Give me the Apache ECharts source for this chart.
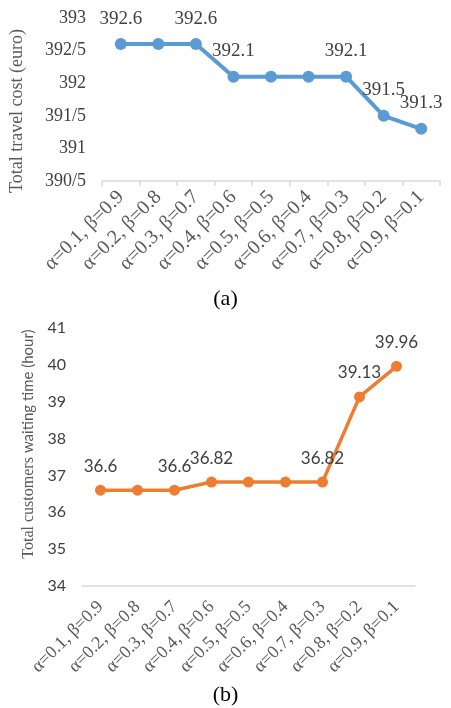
<!DOCTYPE html>
<html>
<head>
<meta charset="utf-8">
<script src="https://cdn.jsdelivr.net/npm/echarts@6/dist/echarts.min.js"></script>
<style>
  html, body { margin: 0; padding: 0; background: #fff; }
  #chart { width: 451px; height: 708px; }
</style>
</head>
<body>
<div id="chart"></div>
<script>
// Weight combinations (alpha, beta)
const categories = [
  'α=0.1, β=0.9', 'α=0.2, β=0.8', 'α=0.3, β=0.7',
  'α=0.4, β=0.6', 'α=0.5, β=0.5', 'α=0.6, β=0.4',
  'α=0.7, β=0.3', 'α=0.8, β=0.2', 'α=0.9, β=0.1'
];
// (a) total travel cost in euro
const travelCost = [392.6, 392.6, 392.6, 392.1, 392.1, 392.1, 392.1, 391.5, 391.3];
// (b) total customers waiting time in hours
const waitingTime = [36.6, 36.6, 36.6, 36.82, 36.82, 36.82, 36.82, 39.13, 39.96];
// points that carry a value label
const labelledPoints = [0, 2, 3, 6, 7, 8];

const serif = 'Liberation Serif';
const sans = 'Lato';

function withLabels(values, fontFamily, fontSize) {
  return values.map((v, i) => ({
    value: v,
    label: {
      show: labelledPoints.includes(i),
      position: 'top',
      distance: 10,
      color: '#404040',
      fontFamily: fontFamily,
      fontSize: fontSize
    }
  }));
}

const chart = echarts.init(document.getElementById('chart'), null, { renderer: 'canvas' });

chart.setOption({
  animation: false,
  backgroundColor: '#ffffff',
  textStyle: { fontFamily: serif },
  title: [
    { text: '(a)', left: 'center', top: 283,
      textStyle: { fontFamily: serif, fontSize: 22, fontWeight: 'normal', color: '#000' } },
    { text: '(b)', left: 'center', top: 679,
      textStyle: { fontFamily: serif, fontSize: 22, fontWeight: 'normal', color: '#000' } }
  ],
  grid: [
    { left: 96, right: 11, top: 18, height: 163 },
    { left: 82, right: 36, top: 328, height: 258 }
  ],
  xAxis: [
    {
      gridIndex: 0, type: 'category', data: categories, boundaryGap: true,
      axisLine: { lineStyle: { color: '#d9d9d9', width: 1.5 } },
      axisTick: { show: true, length: 5, lineStyle: { color: '#d9d9d9', width: 1.5 } },
      axisLabel: { rotate: 45, interval: 0, margin: 13, color: '#595959',
                   fontFamily: serif, fontSize: 20 }
    },
    {
      gridIndex: 1, type: 'category', data: categories, boundaryGap: true,
      axisLine: { lineStyle: { color: '#d9d9d9', width: 1.5 } },
      axisTick: { show: false },
      axisLabel: { rotate: 45, interval: 0, margin: 18, color: '#595959',
                   fontFamily: serif, fontSize: 18 }
    }
  ],
  yAxis: [
    {
      gridIndex: 0, type: 'value', min: 390.5, max: 393, interval: 0.5,
      name: 'Total travel cost (euro)', nameLocation: 'middle', nameGap: 76,
      nameTextStyle: { fontFamily: serif, fontSize: 18, color: '#595959', padding: [0, 23, 0, 0] },
      axisLine: { show: false }, axisTick: { show: false }, splitLine: { show: false },
      axisLabel: { margin: 16, color: '#404040', fontFamily: serif, fontSize: 18,
                   formatter: v => String(v).replace('.', '/') }
    },
    {
      gridIndex: 1, type: 'value', min: 34, max: 41, interval: 1,
      name: '{s|Total customers }{t|waiting time (hour)}',
      nameLocation: 'middle', nameGap: 44,
      nameTextStyle: {
        color: '#595959', padding: [0, 0, 0, 26],
        rich: {
          s: { fontFamily: serif, fontSize: 16, color: '#595959' },
          t: { fontFamily: sans, fontSize: 15, color: '#595959' }
        }
      },
      axisLine: { show: false }, axisTick: { show: false }, splitLine: { show: false },
      axisLabel: { margin: 16, color: '#404040', fontFamily: sans, fontSize: 16 }
    }
  ],
  series: [
    {
      type: 'line', xAxisIndex: 0, yAxisIndex: 0,
      data: withLabels(travelCost, serif, 19),
      symbol: 'circle', symbolSize: 12,
      lineStyle: { color: '#5B9BD5', width: 4 },
      itemStyle: { color: '#5B9BD5' }
    },
    {
      type: 'line', xAxisIndex: 1, yAxisIndex: 1,
      data: withLabels(waitingTime, sans, 17),
      symbol: 'circle', symbolSize: 11,
      lineStyle: { color: '#ED7D31', width: 3.5 },
      itemStyle: { color: '#ED7D31' }
    }
  ]
});
</script>
</body>
</html>
